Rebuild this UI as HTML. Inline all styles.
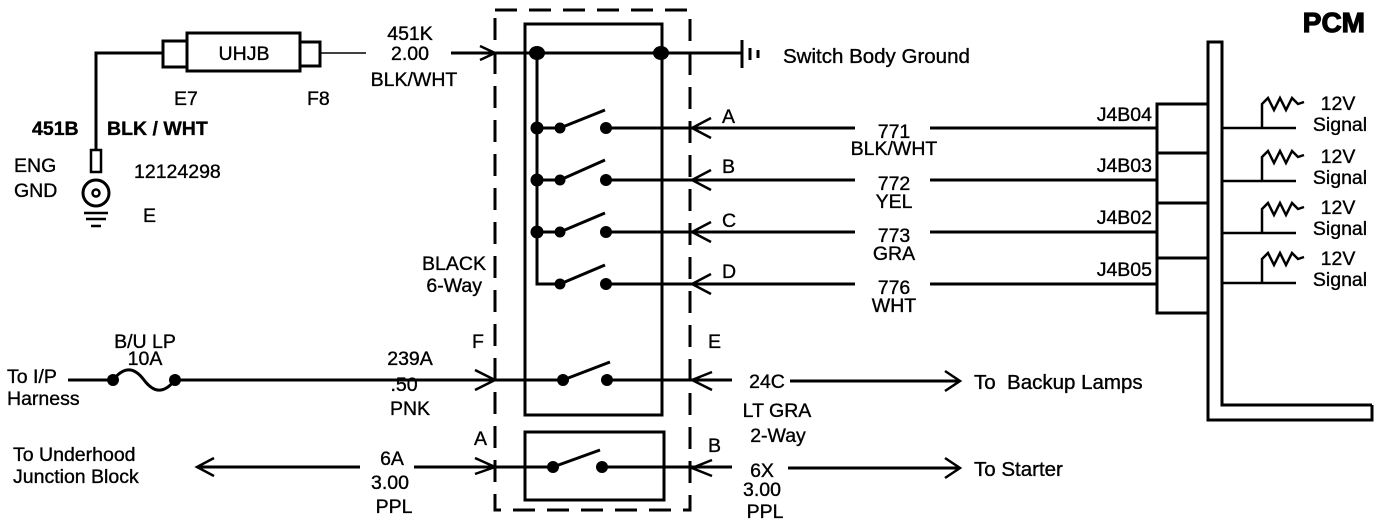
<!DOCTYPE html>
<html><head><meta charset="utf-8"><style>
html,body{margin:0;padding:0;background:#fff;}
svg{display:block;}
text{font-family:"Liberation Sans",Arial,sans-serif;font-size:19.5px;fill:#000;stroke:#000;stroke-width:0.35px;}
</style></head><body>
<svg width="1392" height="526" viewBox="0 0 1392 526" xmlns="http://www.w3.org/2000/svg">
<g stroke="#000" stroke-width="3" fill="none">
<rect x="495" y="10" width="195" height="500" stroke-dasharray="22,12"/>
<rect x="525" y="24" width="137" height="391"/>
<rect x="525" y="432" width="139" height="68"/>
<rect x="187" y="33" width="113" height="38"/>
<rect x="163" y="41" width="24" height="26"/>
<rect x="300" y="42" width="20" height="24"/>
<line x1="320" y1="53" x2="366" y2="53" stroke-width="1.5"/>
<polyline points="163,53 96,53 96,150"/>
<rect x="91" y="150" width="10" height="22" stroke-width="2.5"/>
<circle cx="96" cy="193" r="13"/>
<circle cx="96" cy="193" r="3.5" stroke-width="2.5"/>
<line x1="84" y1="213" x2="108" y2="213" stroke-width="2.5"/>
<line x1="86" y1="219" x2="106" y2="219" stroke-width="2.5"/>
<line x1="91" y1="226" x2="101" y2="226" stroke-width="2.5"/>
<line x1="451" y1="53" x2="495" y2="53"/>
<polyline points="480,46 495,53 480,60" stroke-width="2.5"/>
<line x1="495" y1="53" x2="742" y2="53"/>
<line x1="742" y1="40" x2="742" y2="68"/>
<line x1="750" y1="48" x2="750" y2="60"/>
<line x1="758" y1="50" x2="758" y2="58"/>
<polyline points="537,53 537,284 560,284"/>
</g>
<g fill="#000">
<ellipse cx="537" cy="53" rx="8" ry="7"/>
<ellipse cx="661" cy="53" rx="8" ry="7"/>
</g>
<g stroke="#000" stroke-width="3" fill="none">
<line x1="537" y1="128" x2="560" y2="128"/><line x1="560" y1="128" x2="605" y2="110"/><line x1="606" y1="128" x2="855" y2="128"/><line x1="930" y1="128" x2="1157" y2="128"/>
<line x1="537" y1="180" x2="560" y2="180"/><line x1="560" y1="180" x2="605" y2="160"/><line x1="606" y1="180" x2="855" y2="180"/><line x1="930" y1="180" x2="1157" y2="180"/>
<line x1="537" y1="232" x2="560" y2="232"/><line x1="560" y1="232" x2="605" y2="213"/><line x1="606" y1="232" x2="855" y2="232"/><line x1="930" y1="232" x2="1157" y2="232"/>
<line x1="560" y1="284" x2="605" y2="265"/><line x1="606" y1="284" x2="855" y2="284"/><line x1="930" y1="284" x2="1157" y2="284"/>
<polyline points="711,118 692,128 711,138" stroke-width="2.5"/>
<polyline points="711,170 692,180 711,190" stroke-width="2.5"/>
<polyline points="711,222 692,232 711,242" stroke-width="2.5"/>
<polyline points="711,274 692,284 711,294" stroke-width="2.5"/>
<line x1="68" y1="380" x2="113" y2="380"/>
<path d="M113,380 C125,365 135,368 144,380 C153,392 163,395 175,380"/>
<line x1="175" y1="380" x2="563" y2="380"/>
<line x1="563" y1="380" x2="610" y2="362"/>
<line x1="607" y1="380" x2="732" y2="380"/>
<line x1="790" y1="381" x2="960" y2="381"/>
<polyline points="475,370 495,380 475,390" stroke-width="2.5"/>
<polyline points="712,372 692,380 712,390" stroke-width="2.5"/>
<polyline points="945,371 960,381 945,391" stroke-width="2.5"/>
<line x1="197" y1="467" x2="360" y2="467"/>
<polyline points="214,458 197,467 214,476" stroke-width="2.5"/>
<line x1="414" y1="467" x2="553" y2="467"/>
<line x1="553" y1="467" x2="600" y2="450"/>
<line x1="602" y1="467" x2="732" y2="467"/>
<line x1="788" y1="468" x2="960" y2="468"/>
<polyline points="475,458 495,467 475,474" stroke-width="2.5"/>
<polyline points="712,460 692,468 712,476" stroke-width="2.5"/>
<polyline points="945,458 960,468 945,478" stroke-width="2.5"/>
<polyline points="1372,405 1222,405 1222,42 1208,42 1208,420 1372,420 1372,405"/>
<polyline points="1208,104 1157,104 1157,313 1208,313"/>
<line x1="1157" y1="153" x2="1208" y2="153"/>
<line x1="1157" y1="203" x2="1208" y2="203"/>
<line x1="1157" y1="258" x2="1208" y2="258"/>
<g stroke-width="2.5">
<line x1="1222" y1="128" x2="1296" y2="128"/><polyline points="1262,128 1262,104 1268,98 1274,110 1280,98 1286,110 1292,98 1298,104 1304,102"/>
<line x1="1222" y1="181" x2="1296" y2="181"/><polyline points="1262,181 1262,157 1268,151 1274,163 1280,151 1286,163 1292,151 1298,157 1304,155"/>
<line x1="1222" y1="233" x2="1296" y2="233"/><polyline points="1262,233 1262,209 1268,203 1274,215 1280,203 1286,215 1292,203 1298,209 1304,207"/>
<line x1="1222" y1="283" x2="1296" y2="283"/><polyline points="1262,283 1262,259 1268,253 1274,265 1280,253 1286,265 1292,253 1298,259 1304,257"/>
</g>
</g>
<g fill="#000">
<circle cx="537" cy="128" r="6.5"/><circle cx="560" cy="128" r="5.5"/><circle cx="606" cy="128" r="6"/>
<circle cx="537" cy="180" r="6.5"/><circle cx="560" cy="180" r="5.5"/><circle cx="606" cy="180" r="6"/>
<circle cx="537" cy="232" r="6.5"/><circle cx="560" cy="232" r="5.5"/><circle cx="606" cy="232" r="6"/>
<circle cx="560" cy="284" r="5.5"/><circle cx="606" cy="284" r="6"/>
<circle cx="563" cy="380" r="6"/><circle cx="607" cy="380" r="6"/>
<circle cx="553" cy="467" r="6"/><circle cx="602" cy="467" r="6"/>
<circle cx="113" cy="380" r="6"/><circle cx="175" cy="380" r="6"/>
</g>
<text x="244" y="60" text-anchor="middle">UHJB</text>
<text x="174" y="105">E7</text>
<text x="307" y="105">F8</text>
<text x="32" y="135" font-weight="bold">451B</text>
<text x="107" y="135" font-weight="bold">BLK / WHT</text>
<text x="14" y="172">ENG</text>
<text x="14" y="197">GND</text>
<text x="134" y="178">12124298</text>
<text x="143" y="222">E</text>
<text x="410" y="40" text-anchor="middle">451K</text>
<text x="410" y="60" text-anchor="middle">2.00</text>
<text x="414" y="86" text-anchor="middle">BLK/WHT</text>
<text x="783" y="63" style="font-size:20.5px">Switch Body Ground</text>
<text x="1365" y="32" text-anchor="end" font-weight="bold" style="font-size:28px;stroke-width:1.2px">PCM</text>
<text x="722" y="123">A</text><text x="722" y="173">B</text><text x="722" y="227">C</text><text x="722" y="278">D</text>
<text x="894" y="138" text-anchor="middle">771</text><text x="894" y="155" text-anchor="middle">BLK/WHT</text>
<text x="894" y="190" text-anchor="middle">772</text><text x="894" y="208" text-anchor="middle">YEL</text>
<text x="894" y="242" text-anchor="middle">773</text><text x="894" y="260" text-anchor="middle">GRA</text>
<text x="894" y="294" text-anchor="middle">776</text><text x="894" y="312" text-anchor="middle">WHT</text>
<text x="1152" y="121" text-anchor="end">J4B04</text>
<text x="1152" y="172" text-anchor="end">J4B03</text>
<text x="1152" y="224" text-anchor="end">J4B02</text>
<text x="1152" y="276" text-anchor="end">J4B05</text>
<g text-anchor="middle">
<text x="1338" y="110">12V</text><text x="1340" y="131">Signal</text>
<text x="1338" y="163">12V</text><text x="1340" y="184">Signal</text>
<text x="1338" y="214">12V</text><text x="1340" y="235">Signal</text>
<text x="1338" y="265">12V</text><text x="1340" y="286">Signal</text>
</g>
<text x="486" y="270" text-anchor="end">BLACK</text>
<text x="482" y="292" text-anchor="end">6-Way</text>
<text x="472" y="348">F</text><text x="708" y="348">E</text>
<text x="410" y="365" text-anchor="middle">239A</text>
<text x="404" y="391" text-anchor="middle">.50</text>
<text x="410" y="415" text-anchor="middle">PNK</text>
<text x="145" y="348" text-anchor="middle">B/U LP</text>
<text x="145" y="365" text-anchor="middle">10A</text>
<text x="7" y="383">To I/P</text>
<text x="7" y="405">Harness</text>
<text x="767" y="388" text-anchor="middle">24C</text>
<text x="777" y="417" text-anchor="middle">LT GRA</text>
<text x="778" y="442" text-anchor="middle">2-Way</text>
<text x="974" y="389" style="font-size:20.5px">To&#160; Backup Lamps</text>
<text x="474" y="445">A</text><text x="708" y="452">B</text>
<text x="13" y="461">To Underhood</text>
<text x="13" y="483">Junction Block</text>
<text x="392" y="465" text-anchor="middle">6A</text>
<text x="390" y="489" text-anchor="middle">3.00</text>
<text x="394" y="513" text-anchor="middle">PPL</text>
<text x="762" y="477" text-anchor="middle">6X</text>
<text x="762" y="496" text-anchor="middle">3.00</text>
<text x="765" y="518" text-anchor="middle">PPL</text>
<text x="974" y="476" style="font-size:20.5px">To Starter</text>
</svg>
</body></html>
